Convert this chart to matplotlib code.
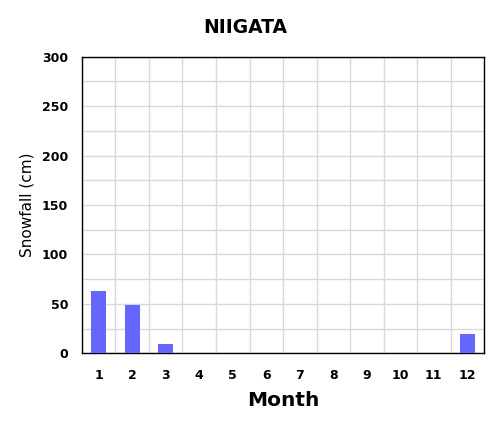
import matplotlib
matplotlib.use('Agg')
import matplotlib.pyplot as plt
from matplotlib.ticker import MultipleLocator

# Monthly snowfall, Niigata
months = ['1', '2', '3', '4', '5', '6', '7', '8', '9', '10', '11', '12']
snowfall = [63, 49, 9, 0, 0, 0, 0, 0, 0, 0, 0, 19.5]

BAR_COLOR = '#6666FF'
GRID_COLOR = '#D9D9D9'

plt.rcParams['font.family'] = ['DejaVu Sans']

fig = plt.figure(figsize=(4.99, 4.33), dpi=100)
ax = fig.add_axes([0.1643, 0.184, 0.8057, 0.685])

x = list(range(len(months)))
ax.bar(x, snowfall, width=0.44, color=BAR_COLOR, zorder=3)

ax.set_xlim(-0.5, len(months) - 0.5)
ax.set_ylim(0, 300)
ax.set_xticks(x)
ax.set_xticklabels(months, fontsize=9, fontweight='bold')
ax.xaxis.set_minor_locator(MultipleLocator(1, offset=0.5))
ax.yaxis.set_major_locator(MultipleLocator(50))
ax.yaxis.set_minor_locator(MultipleLocator(25))
for lab in ax.get_yticklabels():
    lab.set_fontsize(9)
    lab.set_fontweight('bold')

ax.tick_params(which='both', length=0)
ax.tick_params(axis='x', pad=11)
ax.tick_params(axis='y', pad=10)
ax.grid(which='minor', axis='x', color=GRID_COLOR, linewidth=1, zorder=0)
ax.grid(which='both', axis='y', color=GRID_COLOR, linewidth=1, zorder=0)

for s in ax.spines.values():
    s.set_linewidth(1)
    s.set_color('black')

ax.set_ylabel('Snowfall (cm)', fontsize=11, labelpad=5)
ax.set_xlabel('Month', fontsize=14.5, fontweight='bold', labelpad=7)
fig.text(0.491, 0.937, 'NIIGATA', fontsize=13.5, fontweight='bold',
         ha='center', va='center')

plt.savefig('out.png', dpi=100, facecolor='white')
plt.close()
